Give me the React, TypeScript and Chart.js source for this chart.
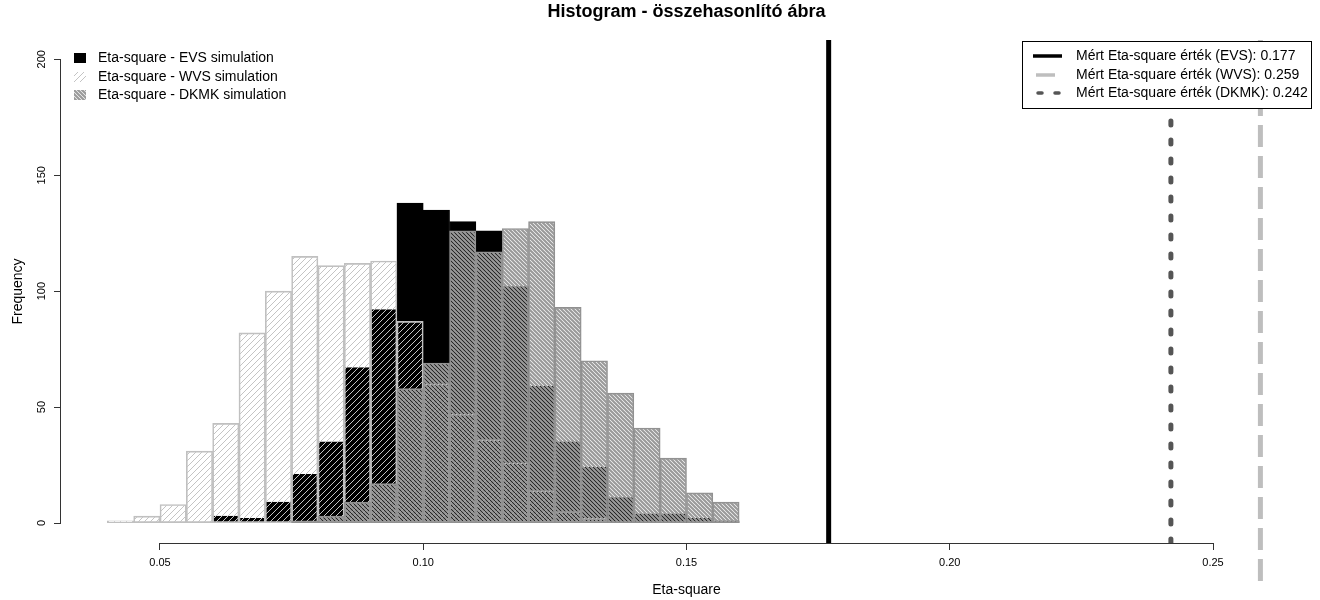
import React, { useEffect, useRef } from "react";
import { Chart, registerables } from "chart.js";
Chart.register(...registerables);

// ---- data ----
const binStarts = [0.04, 0.045, 0.05, 0.055, 0.06, 0.065, 0.07, 0.075, 0.08, 0.085, 0.09, 0.095, 0.1, 0.105, 0.11, 0.115, 0.12, 0.125, 0.13, 0.135, 0.14, 0.145, 0.15, 0.155];
const binWidth = 0.005;
const evsCounts = [0, 0, 0, 0, 3, 2, 9, 21, 35, 67, 92, 138, 135, 130, 126, 102, 59, 35, 24, 11, 4, 4, 2, 1];
const wvsCounts = [1, 3, 8, 31, 43, 82, 100, 115, 111, 112, 113, 87, 60, 47, 36, 26, 14, 5, 2, 0, 0, 0, 0, 0];
const dkmkCounts = [0, 0, 0, 0, 0, 0, 0, 1, 3, 9, 17, 58, 69, 126, 117, 127, 130, 93, 70, 56, 41, 28, 13, 9];
const seriesNames = ["Eta-square - EVS simulation", "Eta-square - WVS simulation", "Eta-square - DKMK simulation"];
const measuredLabels = ["Mért Eta-square érték (EVS): 0.177", "Mért Eta-square érték (WVS): 0.259", "Mért Eta-square érték (DKMK): 0.242"];
const measuredValues = [0.177, 0.259, 0.242];
const xTicks = [0.05, 0.1, 0.15, 0.2, 0.25];
const xTickLabels = ["0.05", "0.10", "0.15", "0.20", "0.25"];
const yTicks = [0, 50, 100, 150, 200];
const titleText = "Histogram - összehasonlító ábra";
const xTitle = "Eta-square";
const yTitle = "Frequency";

const FONT = '"Liberation Sans", Arial, sans-serif';

function makePattern(size: number, draw: (g: CanvasRenderingContext2D, s: number) => void) {
  const c = document.createElement("canvas");
  c.width = size;
  c.height = size;
  const g = c.getContext("2d")!;
  draw(g, size);
  return g.createPattern(c, "repeat")!;
}

export default function App() {
  const ref = useRef<HTMLCanvasElement>(null);
  useEffect(() => {
    const canvas = ref.current!;
    const wvsPattern = makePattern(6, (g, s) => {
      g.strokeStyle = "#c4c4c4";
      g.lineWidth = 1;
      g.beginPath();
      g.moveTo(0, s); g.lineTo(s, 0);
      g.moveTo(-1, 1); g.lineTo(1, -1);
      g.moveTo(s - 1, s + 1); g.lineTo(s + 1, s - 1);
      g.stroke();
    });
    const dkmkPattern = makePattern(4, (g, s) => {
      g.strokeStyle = "#9a9a9a";
      g.lineWidth = 2.2;
      g.beginPath();
      g.moveTo(0, 0); g.lineTo(s, s);
      g.moveTo(-2, s - 2); g.lineTo(2, s + 2);
      g.moveTo(s - 2, -2); g.lineTo(s + 2, 2);
      g.stroke();
    });
    const evsFill = "#000000";
    const fills = [evsFill, wvsPattern, dkmkPattern];

    const toPts = (arr: number[]) => arr.map((v, i) => ({ x: binStarts[i] + binWidth / 2, y: v }));
    const lineColors = ["#000000", "#bebebe", "#555555"];
    const lineDash = [[], [22, 9], [4, 15]];
    const lineBottoms = [-8.6, -25, -8.6];
    const lineTop = 208.3;

    const decor = {
      id: "decor",
      afterDatasetsDraw(chart: any) {
        const { ctx, chartArea, scales } = chart;
        const x = scales.x, y = scales.y;
        ctx.save();
        ctx.strokeStyle = "#333";
        ctx.lineWidth = 1;
        ctx.beginPath();
        const yb = chartArea.bottom + 0.5;
        ctx.moveTo(x.getPixelForValue(xTicks[0]), yb);
        ctx.lineTo(x.getPixelForValue(xTicks[xTicks.length - 1]), yb);
        const xl = chartArea.left - 0.5;
        ctx.moveTo(xl, y.getPixelForValue(yTicks[0]));
        ctx.lineTo(xl, y.getPixelForValue(yTicks[yTicks.length - 1]));
        ctx.stroke();
        ctx.fillStyle = "#000";
        ctx.font = `11px ${FONT}`;
        ctx.textAlign = "center";
        ctx.textBaseline = "middle";
        yTicks.forEach((v) => {
          ctx.save();
          ctx.translate(chartArea.left - 19, y.getPixelForValue(v));
          ctx.rotate(-Math.PI / 2);
          ctx.fillText(String(v), 0, 0);
          ctx.restore();
        });
        ctx.font = `bold 18px ${FONT}`;
        ctx.fillText(titleText, (chartArea.left + chartArea.right) / 2, 12);
        ctx.font = `14px ${FONT}`;
        ctx.fillText(xTitle, (chartArea.left + chartArea.right) / 2, 590);
        ctx.save();
        ctx.translate(18, (chartArea.top + chartArea.bottom) / 2);
        ctx.rotate(-Math.PI / 2);
        ctx.fillText(yTitle, 0, 0);
        ctx.restore();

        ctx.font = `14px ${FONT}`;
        ctx.textAlign = "left";
        const rows = [58, 77, 95];
        seriesNames.forEach((n, i) => {
          ctx.fillStyle = "#fff";
          ctx.fillRect(74, rows[i] - 5, 12, 10);
          ctx.fillStyle = fills[i] as any;
          ctx.fillRect(74, rows[i] - 5, 12, 10);
          ctx.fillStyle = "#000";
          ctx.fillText(n, 98, rows[i]);
        });

        const bx = 1022, by = chartArea.top + 1, bw = chartArea.right - 1 - bx, bh = 67;
        ctx.fillStyle = "#fff";
        ctx.fillRect(bx, by, bw, bh);
        ctx.strokeStyle = "#000";
        ctx.lineWidth = 1;
        ctx.strokeRect(bx + 0.5, by + 0.5, bw, bh);
        const rrows = [56, 75, 93];
        measuredLabels.forEach((n, i) => {
          ctx.save();
          ctx.strokeStyle = lineColors[i];
          ctx.lineWidth = 3.5;
          ctx.lineCap = i === 2 ? "round" : "butt";
          if (i === 2) ctx.setLineDash([4, 13]);
          ctx.beginPath();
          if (i === 1) {
            ctx.moveTo(1036, rrows[i]); ctx.lineTo(1055, rrows[i]);
          } else if (i === 2) {
            ctx.moveTo(1038, rrows[i]); ctx.lineTo(1062, rrows[i]);
          } else {
            ctx.moveTo(1033, rrows[i]); ctx.lineTo(1062, rrows[i]);
          }
          ctx.stroke();
          ctx.restore();
          ctx.fillStyle = "#000";
          ctx.fillText(n, 1076, rrows[i]);
        });
        ctx.restore();
      },
    };

    const datasets: any[] = [
      { label: seriesNames[0], data: toPts(evsCounts), backgroundColor: fills[0], borderColor: "#000", order: 3 },
      { label: seriesNames[1], data: toPts(wvsCounts), backgroundColor: fills[1], borderColor: "#c0c0c0", order: 2 },
      { label: seriesNames[2], data: toPts(dkmkCounts), backgroundColor: fills[2], borderColor: "#909090", order: 1 },
    ].map((d) => ({
      ...d,
      type: "bar",
      borderWidth: 1,
      borderSkipped: false,
      grouped: false,
      barPercentage: 1,
      categoryPercentage: 1,
    }));
    measuredValues.forEach((v, i) => {
      datasets.push({
        type: "line",
        label: measuredLabels[i],
        data: [{ x: v, y: lineBottoms[i] }, { x: v, y: lineTop }],
        borderColor: lineColors[i],
        borderWidth: 5,
        borderDash: lineDash[i],
        borderCapStyle: i === 2 ? "round" : "butt",
        pointRadius: 0,
        clip: i === 1 ? false : undefined,
        order: 0,
      });
    });

    const chart = new Chart(canvas, {
      type: "bar",
      data: { datasets },
      plugins: [decor],
      options: {
        responsive: false,
        animation: false,
        layout: { padding: { top: 40, right: 8, left: 0, bottom: 0 } },
        plugins: { legend: { display: false }, title: { display: false }, tooltip: { enabled: false } },
        scales: {
          x: {
            type: "linear",
            min: 0.0312,
            max: 0.2688,
            offset: false,
            afterBuildTicks: (s: any) => { s.ticks = xTicks.map((v) => ({ value: v })); },
            afterFit: (s: any) => { s.height = 57; },
            border: { display: false },
            grid: { offset: false, drawOnChartArea: false, drawTicks: true, tickLength: 7, color: "#333" },
            ticks: {
              font: { family: FONT, size: 11 },
              color: "#000",
              padding: 6,
              maxRotation: 0,
              callback: (v: any) => xTickLabels[xTicks.indexOf(Number(v))] ?? "",
            },
          },
          y: {
            type: "linear",
            min: -8.6,
            max: 208.3,
            afterBuildTicks: (s: any) => { s.ticks = yTicks.map((v) => ({ value: v })); },
            afterFit: (s: any) => { s.width = 61; },
            border: { display: false },
            grid: { drawOnChartArea: false, drawTicks: true, tickLength: 7, color: "#333" },
            ticks: { display: false },
          },
        },
      } as any,
    });
    return () => chart.destroy();
  }, []);
  return (
    <div style={{ position: "fixed", left: 0, top: 0, width: 1320, height: 600, background: "#fff" }}>
      <canvas ref={ref} width={1320} height={600} />
    </div>
  );
}
